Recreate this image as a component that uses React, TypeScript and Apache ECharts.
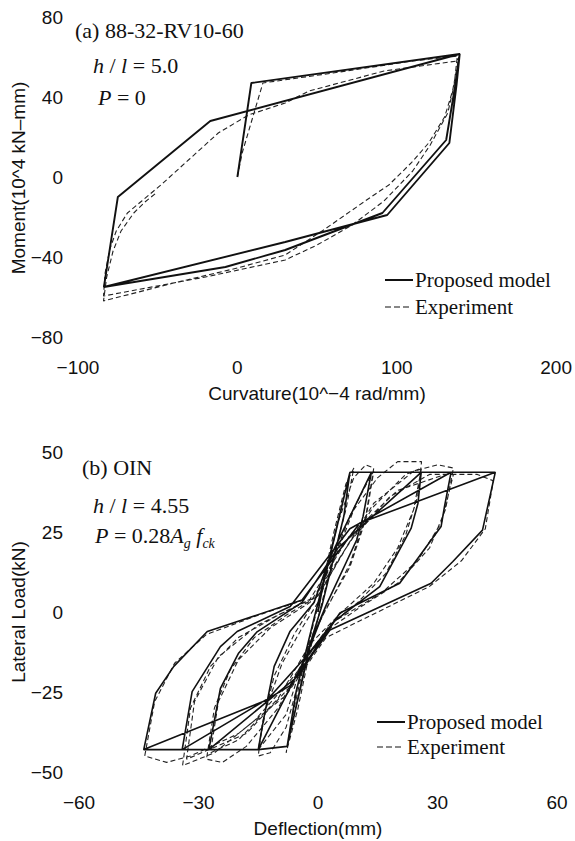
import React, { useEffect, useRef } from 'react';
import * as echarts from 'echarts';

// ---------- (a) Moment–curvature ----------
const curvTicks = [-100, 0, 100, 200];
const momentTicks = [-80, -40, 0, 40, 80];

const momentModel: [number, number][] = [
  [0, 0], [8.75, 47], [139.5, 61.5], [137.5, 46], [133, 17], [94, -19], [30, -32.5], [-83.75, -55],
  [-75, -10], [-17, 28], [139.5, 61.5], [136.5, 45], [131, 18.5], [91, -18], [30, -36.5], [-7.5, -45], [-83.75, -55],
];

const momentExperiment: [number, number][] = [
  [0, 0], [3, 12], [16, 47], [60, 52], [110, 58], [138, 60.5], [136, 46], [132, 32], [121, 16], [110, 3],
  [92, -12], [72, -24], [50, -34], [30, -41.5], [-20, -50], [-84, -59.5],
  [-83, -48], [-80, -36], [-76, -27], [-69, -18], [-60, -12], [-48, -4], [-30, 9], [-12, 22], [7, 31],
  [30, 37], [45, 43], [92, 53], [138, 58], [139, 60],
  [135, 43], [130, 30], [120, 17], [109, 7], [95, -4], [82, -11], [55, -26], [30, -39], [0, -45.5],
  [-40, -53], [-84, -62], [-82, -50], [-78, -37], [-73, -27], [-65, -18], [-58, -12.5], [-51, -8],
];

// ---------- (b) Lateral load–deflection ----------
const deflTicks = [-60, -30, 0, 30, 60];
const loadTicks = [-50, -25, 0, 25, 50];

const loadModel: [number, number][] = [
  [0, 0], [1.5, 10], [8, 43.65], [6.5, 30], [1, 2], [-1.5, -8], [-7.75, -42], [-5.5, -25], [-1, -2],
  [1.5, 10], [8, 43.65], [6.5, 30], [1, 2], [-1.5, -8], [-7.75, -42], [-5.5, -25], [-1, -2],
  [2, 12], [8, 43.65], [13.4, 43.65], [11.3, 29.8], [9.7, 22.5], [2, 2], [-2, -10], [-7.75, -42], [-15, -43],
  [-13.7, -33.8], [-11, -17], [-7, -6], [-1, 3], [3, 17], [13.4, 43.65], [11.3, 29.8], [9.7, 22.5], [2, 2],
  [-3, -14], [-15, -43], [-13.7, -33.8], [-11, -17], [-7, -6], [-1, 3],
  [3, 17], [13.4, 43.65], [25.9, 43.65], [25.1, 34], [23.4, 26.2], [15.5, 7.9], [4, -3], [-3, -14], [-15, -43],
  [-27.4, -43], [-24.5, -23.9], [-20, -13], [-15.3, -6.2], [-4, 3], [5, 20], [25.9, 43.65], [25.1, 34],
  [23.4, 26.2], [15.5, 7.9], [4, -3], [-5, -20], [-27.4, -43], [-24.5, -23.9], [-20, -13], [-15.3, -6.2], [-4, 3],
  [5, 20], [25.9, 43.65], [33.4, 43.65], [31.75, 32.9], [30.9, 26.7], [20.5, 9], [5.5, -0.3], [-5, -20],
  [-27.4, -43], [-34.1, -43], [-31.6, -24.9], [-24.5, -10.8], [-20.3, -6.1], [-7, 1.7], [8, 26], [33.4, 43.65],
  [31.75, 32.9], [30.9, 26.7], [20.5, 9], [5.5, -0.3], [-7, -23], [-34.1, -43], [-31.6, -24.9], [-24.5, -10.8],
  [-20.3, -6.1], [-7, 1.7],
  [8, 26], [33.4, 43.65], [44.5, 43.65], [41.3, 25.6], [33.8, 15.7], [28.4, 9], [3, -5.6], [-7, -23],
  [-34.1, -43], [-43.75, -43], [-40.75, -25.4], [-36.2, -17], [-27.8, -6.1], [-4, 3.75], [10.5, 27.8],
  [44.5, 43.65], [41.3, 25.6], [33.8, 15.7], [28.4, 9], [3, -5.6], [-12.8, -27.5], [-43.75, -43],
  [-40.75, -25.4], [-36.2, -17], [-27.8, -6.1], [-4, 3.75],
];

const loadExperiment: [number, number][] = [
  [0, 0], [1, 8], [4, 25], [7, 40], [9, 45], [7, 32], [2, 8], [0, -2], [-2, -12], [-5, -30], [-8, -44],
  [-6, -30], [-2, -8], [0, 2],
  [2, 12], [5, 28], [9, 42], [12, 46], [14, 45], [12, 30], [8, 15], [3, 3], [-1, -6], [-4, -18], [-8, -36],
  [-12, -44], [-15, -45], [-14, -35], [-11, -20], [-6, -7], [-1, 3], [3, 14], [8, 30], [13, 42], [14, 44],
  [12, 29], [8, 14], [2, 1], [-3, -12], [-8, -32], [-15, -43], [-13, -30], [-9, -16], [-4, -5], [0, 3],
  [4, 16], [9, 32], [15, 42], [20, 47], [26, 47], [25, 36], [22, 24], [17, 12], [10, 3], [3, -4], [-4, -16],
  [-10, -30], [-18, -42], [-24, -47], [-28, -46], [-26, -30], [-22, -18], [-16, -8], [-8, -1], [0, 5],
  [6, 18], [14, 33], [22, 43], [26, 45], [24, 32], [20, 20], [14, 9], [6, 0], [-2, -10], [-10, -27],
  [-20, -40], [-27, -44], [-25, -28], [-20, -15], [-12, -5], [-2, 3],
  [6, 18], [14, 34], [24, 44], [30, 46], [34, 45], [32, 32], [28, 20], [20, 9], [10, 1], [2, -6], [-6, -20],
  [-16, -34], [-26, -44], [-34, -48], [-32, -30], [-27, -17], [-20, -8], [-10, -1], [0, 5], [8, 22],
  [18, 36], [28, 43], [34, 43], [31, 28], [25, 16], [16, 6], [4, -3], [-6, -22], [-18, -38], [-33, -46],
  [-31, -28], [-25, -14], [-15, -4], [-2, 4],
  [8, 24], [20, 38], [32, 43], [40, 43], [44, 41], [42, 26], [36, 16], [28, 8], [15, 0], [2, -8], [-8, -26],
  [-20, -38], [-32, -45], [-38, -47], [-43.5, -45], [-41, -28], [-36, -16], [-28, -7], [-15, -1], [-3, 4],
];

const SANS = '"Liberation Sans", Arial, sans-serif';
const SERIF = '"Liberation Serif", "Times New Roman", serif';
const INK = '#111';

const fmt = (v: number) => String(v).replace('-', '\u2212');

function axisBase(extra: any) {
  return {
    type: 'value',
    axisLine: { show: false },
    axisTick: { show: false },
    splitLine: { show: false },
    ...extra,
  };
}

function label(margin: number) {
  return { margin, fontFamily: SANS, fontSize: 19, color: INK, formatter: fmt };
}

function txt(x: number, y: number, text: string, extra: any = {}) {
  return {
    type: 'text',
    x,
    y,
    style: {
      text,
      fill: INK,
      fontFamily: SERIF,
      fontSize: 22,
      verticalAlign: 'middle',
      textVerticalAlign: 'middle',
      ...extra,
    },
  };
}

const richStyles = {
  i: { fontStyle: 'italic', fontFamily: SERIF, fontSize: 22, lineHeight: 30, fill: INK },
  n: { fontFamily: SERIF, fontSize: 22, lineHeight: 30, fill: INK },
  s: { fontStyle: 'italic', fontFamily: SERIF, fontSize: 14, lineHeight: 30, verticalAlign: 'bottom', fill: INK },
};

function legend(x: number, y1: number, y2: number) {
  return [
    { type: 'line', shape: { x1: x, y1, x2: x + 28, y2: y1 }, style: { stroke: INK, lineWidth: 2 } },
    txt(x + 30, y1, 'Proposed model', { fontSize: 21 }),
    { type: 'line', shape: { x1: x, y1: y2, x2: x + 27, y2 }, style: { stroke: INK, lineWidth: 1.2, lineDash: [6, 3] } },
    txt(x + 30, y2, 'Experiment', { fontSize: 21 }),
  ];
}

function axisTitle(x: number, y: number, text: string, rotate: boolean) {
  return {
    type: 'text',
    x,
    y,
    rotation: rotate ? Math.PI / 2 : 0,
    style: {
      text,
      fill: INK,
      fontFamily: SANS,
      fontSize: 19,
      align: 'center',
      textAlign: 'center',
      verticalAlign: 'middle',
      textVerticalAlign: 'middle',
    },
  };
}

export default function App() {
  const ref = useRef<HTMLDivElement>(null);
  useEffect(() => {
    document.body.style.margin = '0';
    const chart = echarts.init(ref.current!, null, { renderer: 'svg' });
    const option: any = {
      animation: false,
      backgroundColor: '#fff',
      grid: [
        { left: 78, top: 17, width: 479, height: 320 },
        { left: 79, top: 452, width: 478, height: 320 },
      ],
      xAxis: [
        axisBase({ gridIndex: 0, min: curvTicks[0], max: curvTicks[curvTicks.length - 1], interval: 100, axisLabel: label(21) }),
        axisBase({ gridIndex: 1, min: deflTicks[0], max: deflTicks[deflTicks.length - 1], interval: 30, axisLabel: label(21) }),
      ],
      yAxis: [
        axisBase({ gridIndex: 0, min: momentTicks[0], max: momentTicks[momentTicks.length - 1], interval: 40, axisLabel: label(15) }),
        axisBase({ gridIndex: 1, min: loadTicks[0], max: loadTicks[loadTicks.length - 1], interval: 25, axisLabel: label(16) }),
      ],
      series: [
        {
          name: 'Experiment', type: 'line', xAxisIndex: 0, yAxisIndex: 0, data: momentExperiment,
          showSymbol: false, symbol: 'none', lineStyle: { color: '#222', width: 1.1, type: [5, 3] }, z: 2,
        },
        {
          name: 'Proposed model', type: 'line', xAxisIndex: 0, yAxisIndex: 0, data: momentModel,
          showSymbol: false, symbol: 'none', lineStyle: { color: INK, width: 1.9 }, z: 3,
        },
        {
          name: 'Experiment', type: 'line', xAxisIndex: 1, yAxisIndex: 1, data: loadExperiment,
          showSymbol: false, symbol: 'none', lineStyle: { color: '#222', width: 1.1, type: [5, 3] }, z: 2,
        },
        {
          name: 'Proposed model', type: 'line', xAxisIndex: 1, yAxisIndex: 1, data: loadModel,
          showSymbol: false, symbol: 'none', lineStyle: { color: INK, width: 1.6 }, z: 3,
        },
      ],
      graphic: [
        txt(75, 30, '(a) 88-32-RV10-60'),
        txt(93, 65, '{i|h} {n|/} {i|l} {n|= 5.0}', { rich: richStyles }),
        txt(98, 97, '{i|P} {n|= 0}', { rich: richStyles }),
        txt(82, 467, '(b) OIN'),
        txt(93, 505, '{i|h} {n|/} {i|l} {n|= 4.55}', { rich: richStyles }),
        txt(95, 535, '{i|P} {n|= 0.28}{i|A}{s|g}{n| }{i|f}{s|ck}', { rich: richStyles }),
        ...legend(385, 280, 307),
        ...legend(377, 722, 747),
        axisTitle(317, 393, 'Curvature(10^\u22124 rad/mm)', false),
        axisTitle(18, 178, 'Moment(10^4 kN\u2013mm)', true),
        axisTitle(318, 828, 'Deflection(mm)', false),
        axisTitle(18, 612, 'Lateral Load(kN)', true),
      ],
    };
    chart.setOption(option);
    return () => chart.dispose();
  }, []);
  return <div ref={ref} style={{ width: 575, height: 841 }} />;
}
